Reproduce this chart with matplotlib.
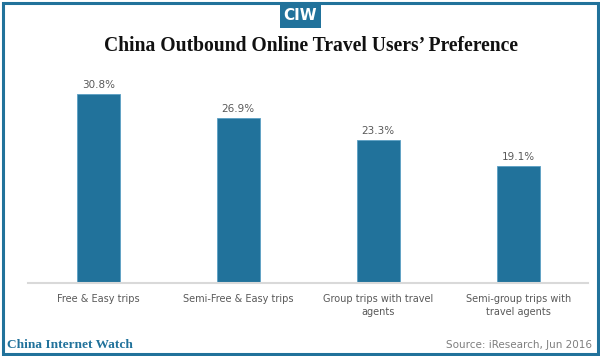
import matplotlib
matplotlib.use('Agg')
import matplotlib.pyplot as plt
from matplotlib.patches import Rectangle

categories = ['Free & Easy trips', 'Semi-Free & Easy trips',
              'Group trips with travel\nagents', 'Semi-group trips with\ntravel agents']
values = [30.8, 26.9, 23.3, 19.1]
value_labels = ['30.8%', '26.9%', '23.3%', '19.1%']

BLUE = '#21729b'
GRAY = '#595959'

W, H = 600, 356
fig = plt.figure(figsize=(W / 100, H / 100), dpi=100)

# outer frame
fig.patches.append(Rectangle((2.5 / W, 2.5 / H), 1 - 5 / W, 1 - 5 / H,
                             transform=fig.transFigure, fill=False,
                             edgecolor=BLUE, lw=2.2))

# CIW logo box
fig.patches.append(Rectangle((280 / W, 1 - 28 / H), 41 / W, 25 / H,
                             transform=fig.transFigure, facecolor=BLUE,
                             edgecolor='none'))
fig.text(300.5 / W, 1 - 16 / H, 'CIW', color='white', fontsize=11,
         fontweight='bold', family='Liberation Sans Narrow', ha='center', va='center')

fig.text(311.5 / W, 1 - 46 / H, 'China Outbound Online Travel Users\u2019 Preference',
         family='Liberation Serif', fontweight='bold', fontsize=14.1,
         ha='center', va='center', color='#111111')

# plot area
px_per = 6.14
ymax = 33
ax = fig.add_axes([28.3 / W, 73 / H, 560 / W, ymax * px_per / H])
x = range(len(values))
ax.bar(x, values, width=0.31, color=BLUE, edgecolor='#5b9fc4', linewidth=0.6)
for xi, v, lab in zip(x, values, value_labels):
    ax.text(xi, v + 0.6, lab, ha='center', va='bottom', fontsize=7.5,
            color=GRAY, family='DejaVu Sans')
ax.set_xlim(-0.5, 3.5)
ax.set_ylim(0, ymax)
ax.set_xticks(list(x))
ax.set_xticklabels(categories, fontsize=7, color=GRAY, family='DejaVu Sans',
                   linespacing=1.3, va='top')
ax.tick_params(axis='x', length=0, pad=8)
ax.set_yticks([])
for s in ['top', 'left', 'right']:
    ax.spines[s].set_visible(False)
ax.spines['bottom'].set_color('#d9d9d9')
ax.spines['bottom'].set_linewidth(1.5)
ax.patch.set_alpha(0)

fig.text(7 / W, 1 - 344.5 / H, 'China Internet Watch', color=BLUE,
         family='Liberation Serif', fontweight='bold', fontsize=9.6,
         ha='left', va='center')
fig.text(592 / W, 1 - 345 / H, 'Source: iResearch, Jun 2016', color='#7f7f7f',
         family='DejaVu Sans', fontsize=7.5, ha='right', va='center')

fig.savefig('out.png', dpi=100)
